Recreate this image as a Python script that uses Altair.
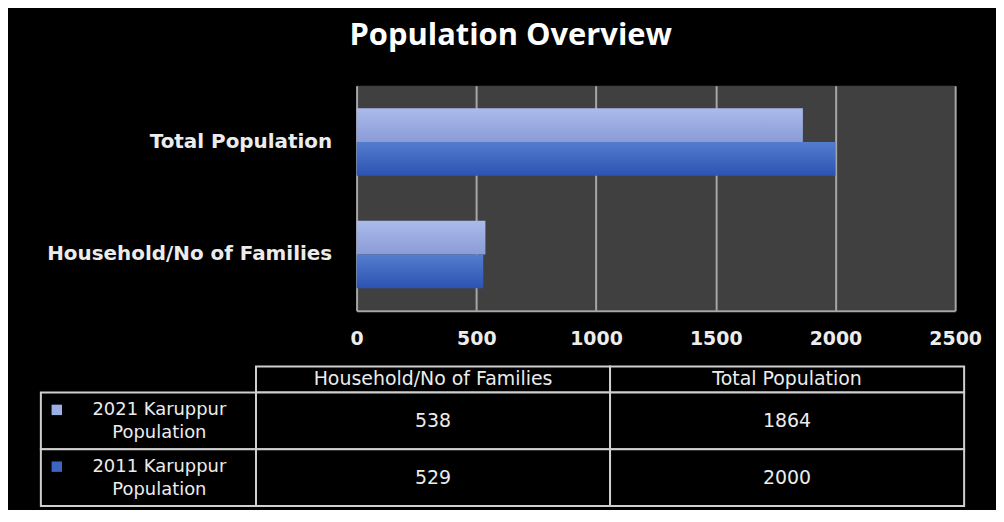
import altair as alt
import pandas as pd

# ---------------- data ----------------
categories = ["Household/No of Families", "Total Population"]
bar_order = ["Total Population", "Household/No of Families"]
series_names = ["2021 Karuppur Population", "2011 Karuppur Population"]
legend_line1 = ["2021 Karuppur", "2011 Karuppur"]
legend_line2 = ["Population", "Population"]
pop_2021 = [538, 1864]
pop_2011 = [529, 2000]
x_ticks = [0, 500, 1000, 1500, 2000, 2500]

rows = []
for s, vals in zip(series_names, [pop_2021, pop_2011]):
    for c, v in zip(categories, vals):
        rows.append({"category": c, "series": s, "value": v})
df = pd.DataFrame(rows)
legend_df = pd.DataFrame({"series": series_names, "line1": legend_line1, "line2": legend_line2,
                          "col": ["legend"] * len(series_names)})
header_df = pd.DataFrame({"category": categories, "row": ["header"] * len(categories)})

# ---------------- styles ----------------
LIGHT = "#9db0e6"
DARK = "#3d66c4"
LABEL = "#ececec"
GRID = "#a6a6a6"
BORDER = "#cfcfcf"
AX_FONT = "DejaVu Sans"
TB_FONT = "DejaVu Sans"
TITLE_FONT = "Open Sans"


def grad(top, bottom):
    return alt.Gradient(
        gradient="linear",
        stops=[alt.GradientStop(color=top, offset=0), alt.GradientStop(color=bottom, offset=1)],
        x1=0, x2=0, y1=0, y2=1,
    )


# ---------------- bar panel ----------------
y_enc = alt.Y(
    "category:N", sort=bar_order,
    scale=alt.Scale(domain=bar_order, paddingInner=0.40, paddingOuter=0.20),
    axis=alt.Axis(title=None, ticks=False, domain=False, labelFont=AX_FONT, labelFontWeight="bold",
                  labelFontSize=20, labelColor=LABEL, labelPadding=25, labelLimit=400),
)
x_enc = alt.X(
    "value:Q",
    scale=alt.Scale(domain=[0, 2500], nice=False),
    axis=alt.Axis(values=x_ticks, title=None, grid=True, gridColor=GRID, gridWidth=2, gridOpacity=1,
                  domain=True, domainColor=GRID, domainWidth=2, ticks=False, labelFont=AX_FONT,
                  labelFontWeight="bold", labelFontSize=19, labelColor=LABEL, labelPadding=19,
                  labelFlush=False, format="d"),
)
yoff = alt.YOffset("series:N", sort=series_names,
                   scale=alt.Scale(domain=series_names, paddingInner=0, paddingOuter=0))

bars_base = alt.Chart(df).encode(x=x_enc, y=y_enc, yOffset=yoff)
bar_2021 = bars_base.transform_filter(alt.datum.series == series_names[0]).mark_bar(
    color=grad("#abbbeb", "#8a9bd7"))
bar_2011 = bars_base.transform_filter(alt.datum.series == series_names[1]).mark_bar(
    color=grad("#547dcf", "#2c53b1"))
bars = alt.layer(bar_2021, bar_2011).properties(
    width=601, height=226, view=alt.ViewBackground(fill="#404040", strokeWidth=0))

# ---------------- data table panel ----------------
col_x = alt.X("category:N", sort=categories,
              scale=alt.Scale(domain=categories, range=[-101, 610], paddingInner=0, paddingOuter=0),
              axis=None)
hdr_y = alt.Y("row:N", scale=alt.Scale(domain=["header"], range=[0, 26], paddingInner=0, paddingOuter=0),
              axis=None)
row_y = alt.Y("series:N", sort=series_names,
              scale=alt.Scale(domain=series_names, range=[26, 140], paddingInner=0, paddingOuter=0),
              axis=None)
leg_x = alt.X("col:N", scale=alt.Scale(domain=["legend"], range=[-317, -101], paddingInner=0, paddingOuter=0),
              axis=None)

hdr_rect = alt.Chart(header_df).mark_rect(fill="black", stroke=BORDER, strokeWidth=2).encode(x=col_x, y=hdr_y)
hdr_text = alt.Chart(header_df).mark_text(font=TB_FONT, fontSize=19, color=LABEL).encode(
    x=col_x, y=hdr_y, text="category:N")
cell_rect = alt.Chart(df).mark_rect(fill="black", stroke=BORDER, strokeWidth=2).encode(x=col_x, y=row_y)
cell_text = alt.Chart(df).mark_text(font=TB_FONT, fontSize=19, color=LABEL).encode(
    x=col_x, y=row_y, text="value:Q")
leg_rect = alt.Chart(legend_df).mark_rect(fill="black", stroke=BORDER, strokeWidth=2).encode(x=leg_x, y=row_y)
leg_text1 = alt.Chart(legend_df).mark_text(font=TB_FONT, fontSize=18, color=LABEL, dx=11, dy=-11).encode(
    x=leg_x, y=row_y, text="line1:N")
leg_text2 = alt.Chart(legend_df).mark_text(font=TB_FONT, fontSize=18, color=LABEL, dx=11, dy=12).encode(
    x=leg_x, y=row_y, text="line2:N")
leg_key = alt.Chart(legend_df).mark_square(size=110, opacity=1, xOffset=-92, yOffset=-11).encode(
    x=leg_x, y=row_y,
    color=alt.Color("series:N", scale=alt.Scale(domain=series_names, range=[LIGHT, DARK]), legend=None))

table = alt.layer(hdr_rect, hdr_text, cell_rect, cell_text, leg_rect, leg_text1, leg_text2, leg_key).resolve_scale(
    x="independent", y="independent").properties(width=601, height=140)

chart = alt.vconcat(bars, table, spacing=17).properties(
    title=alt.TitleParams(text="Population Overview", font=TITLE_FONT, fontSize=31, fontWeight="bold",
                          color="white", anchor="middle", offset=34),
    padding={"left": 32, "top": 11, "right": 14, "bottom": 2},
    background="black",
).configure_view(strokeWidth=0)

chart.save("out.html", embed_options={"renderer": "svg", "actions": False})
